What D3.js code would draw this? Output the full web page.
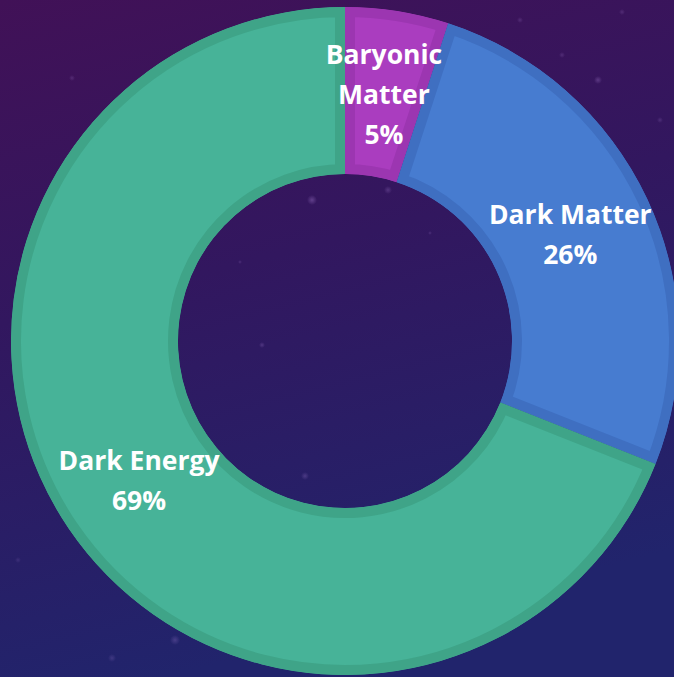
<!DOCTYPE html>
<html>
<head>
<meta charset="utf-8">
<script src="https://cdn.jsdelivr.net/npm/d3@7/dist/d3.min.js"></script>
<style>
  html, body { margin: 0; padding: 0; background: #2e1860; overflow: hidden; }
  svg { display: block; }
</style>
</head>
<body>
<svg id="chart" width="674" height="677"></svg>
<script>
// Composition of the universe
const categories = ["Baryonic Matter", "Dark Matter", "Dark Energy"];
const labelLines = [["Baryonic", "Matter", "5%"], ["Dark Matter", "26%"], ["Dark Energy", "69%"]];
const values = [5, 26, 69];
const fillColors = ["#aa3dbf", "#477cd0", "#47b398"];
const edgeColors = ["#9c36b1", "#3f6fc1", "#3fa488"];

// faint background stars [x, y, r, opacity]
const stars = [
  [312, 200, 5, 0.35], [388, 190, 4, 0.25], [262, 345, 3, 0.25], [305, 476, 4, 0.25],
  [598, 80, 4, 0.3], [562, 55, 3, 0.2], [72, 78, 3, 0.2], [622, 12, 3, 0.2],
  [175, 640, 5, 0.25], [112, 658, 4, 0.2], [430, 233, 2, 0.2], [520, 20, 3, 0.2],
  [18, 560, 3, 0.15], [660, 120, 3, 0.2], [240, 262, 2, 0.2], [395, 560, 2, 0.15]
];

const W = 674, H = 677;
const cx = 345, cy = 341;
const outerR = 334, innerR = 167, labelR = 249;
const borderW = 10;

const svg = d3.select("#chart");
const defs = svg.append("defs");

// background
const bg = defs.append("linearGradient").attr("id", "bg")
  .attr("x1", 0).attr("y1", 0).attr("x2", 0.25).attr("y2", 1);
bg.append("stop").attr("offset", "0%").attr("stop-color", "#411157");
bg.append("stop").attr("offset", "45%").attr("stop-color", "#32175f");
bg.append("stop").attr("offset", "100%").attr("stop-color", "#21246c");
svg.append("rect").attr("width", W).attr("height", H).attr("fill", "url(#bg)");

const glow = defs.append("radialGradient").attr("id", "star");
glow.append("stop").attr("offset", "0%").attr("stop-color", "#b58ce0").attr("stop-opacity", 1);
glow.append("stop").attr("offset", "100%").attr("stop-color", "#b58ce0").attr("stop-opacity", 0);
svg.append("g").selectAll("circle").data(stars).join("circle")
  .attr("cx", d => d[0]).attr("cy", d => d[1]).attr("r", d => d[2])
  .attr("fill", "url(#star)").attr("opacity", d => d[3]);

// donut
const data = categories.map((c, i) => ({ name: c, value: values[i], i }));
const pie = d3.pie().value(d => d.value).sort(null).startAngle(0).endAngle(2 * Math.PI);
const arcs = pie(data);
const arc = d3.arc().innerRadius(innerR).outerRadius(outerR);
const labelArc = d3.arc().innerRadius(labelR).outerRadius(labelR);

const g = svg.append("g").attr("transform", `translate(${cx},${cy})`);

// each slice is clipped to itself so its wide stroke becomes an inner border
arcs.forEach((a, k) => {
  defs.append("clipPath").attr("id", "clip" + k)
    .append("path").attr("d", arc(a));
});

g.selectAll("path.slice").data(arcs).join("path")
  .attr("class", "slice")
  .attr("d", arc)
  .attr("fill", d => fillColors[d.data.i])
  .attr("stroke", d => edgeColors[d.data.i])
  .attr("stroke-width", borderW * 2)
  .attr("stroke-linejoin", "miter")
  .attr("clip-path", (d, k) => `url(#clip${k})`);

// labels
const lineH = 40;
const labels = g.selectAll("text.lbl").data(arcs).join("text")
  .attr("class", "lbl")
  .attr("text-anchor", "middle")
  .attr("fill", "#ffffff")
  .attr("font-family", "'Open Sans', 'Noto Sans', sans-serif")
  .attr("font-weight", 700)
  .attr("font-size", 26.5)
  .attr("transform", d => {
    const [x, y] = labelArc.centroid(d);
    return `translate(${x},${y})`;
  });
labels.each(function (d) {
  const lines = labelLines[d.data.i];
  const t = d3.select(this);
  const y0 = -((lines.length - 1) * lineH) / 2 + 9;
  lines.forEach((s, j) => {
    t.append("tspan").attr("x", 0).attr("y", y0 + j * lineH).text(s);
  });
});
</script>
</body>
</html>
